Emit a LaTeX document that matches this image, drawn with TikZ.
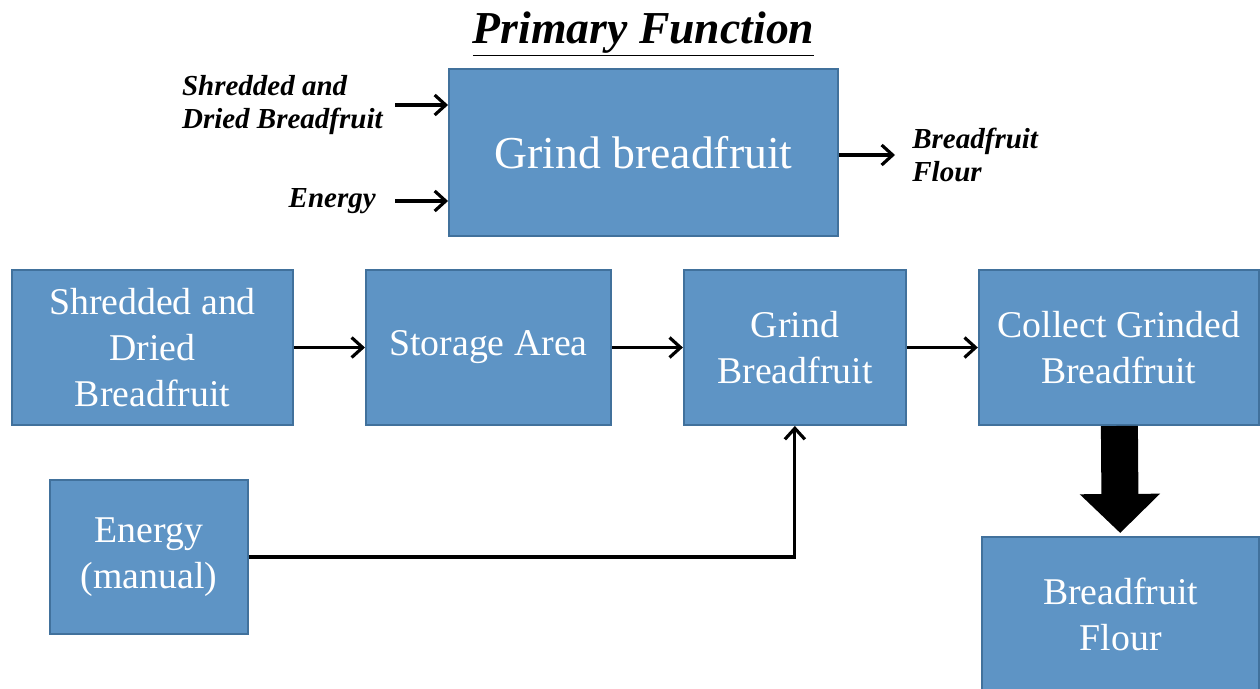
\documentclass[tikz,border=0pt]{standalone}
\usepackage{fontspec}
\setmainfont{Liberation Serif}
\usetikzlibrary{positioning,arrows.meta}
\definecolor{boxfill}{RGB}{94,148,197}
\definecolor{boxline}{RGB}{65,113,156}
\begin{document}
\begin{tikzpicture}[node distance=1.42cm,
	block/.style={draw=boxline,line width=1.1pt,fill=boxfill,text=white,align=center,
		minimum height=3.1cm,font=\fontsize{21.5}{26}\selectfont},
	lbl/.style={font=\fontsize{16.5}{18.7}\selectfont\bfseries\itshape,inner ysep=0pt},
	arr/.style={line width=1.8pt,-{Straight Barb[length=0.22cm,width=0.4cm]}},
	big/.style={line width=0.74cm,-{Triangle[length=0.78cm,width=1.56cm]},shorten >=0.06cm}]
	\useasboundingbox (0,0) rectangle (25.2,-13.76);
	\node[anchor=base] (title) at (12.87,-0.86) {\fontsize{26}{31}\selectfont\bfseries\itshape\underline{Primary Function}};
	\node (top) [block,minimum width=7.78cm,minimum height=3.34cm,font=\fontsize{26}{31}\selectfont] at (12.87,-3.05) {Grind breadfruit};
	\node (lsd) [lbl,align=left,anchor=east,inner xsep=0.24cm] at (7.9,-2.1) {Shredded and\\Dried Breadfruit};
	\node (le) [lbl,anchor=east,inner xsep=0.38cm] at (7.9,-4.02) {Energy};
	\node (lbf) [lbl,align=left,anchor=west,inner xsep=0.34cm] at (17.9,-3.1) {Breadfruit\\Flour};
	\node (sd) [block,minimum width=5.62cm] at (3.05,-6.95) {Shredded and\\Dried\\Breadfruit};
	\node (sa) [block,minimum width=4.9cm,right=of sd] {Storage Area};
	\node (gb) [block,minimum width=4.44cm,right=of sa] {Grind\\Breadfruit};
	\node (cg) [block,minimum width=5.6cm,right=of gb] {Collect Grinded\\Breadfruit};
	\node (fl) [block,minimum width=5.54cm,below=2.2cm of cg,xshift=0.04cm] {Breadfruit\\Flour};
	\node (en) [block,minimum width=3.96cm,minimum height=3.08cm] at (2.98,-11.14) {Energy\\(manual)};
	\draw[arr] (lsd.east) -- (lsd.east -| top.west);
	\draw[arr] (le.east) -- (le.east -| top.west);
	\draw[arr] (top.east |- lbf.west) -- (lbf.west);
	\path[arr]
		(sd) edge (sa)
		(sa) edge (gb)
		(gb) edge (cg);
	\draw[arr] (en) -| (gb);
	\draw[big] (cg) -- (fl);
\end{tikzpicture}
\end{document}
